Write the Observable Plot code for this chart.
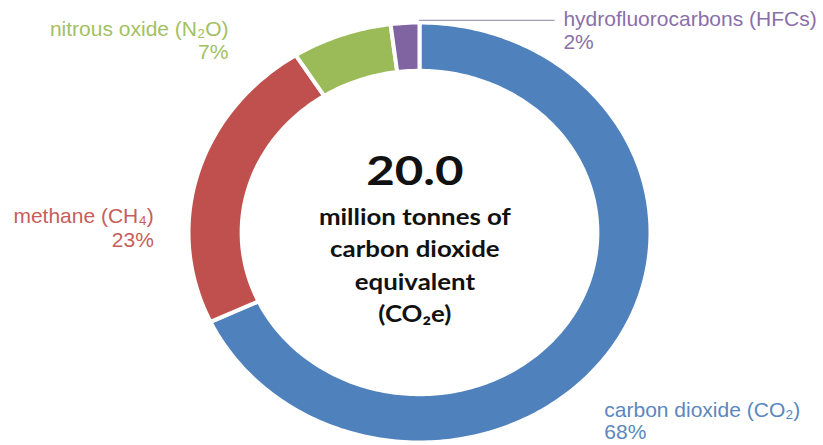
<!DOCTYPE html>
<html><head><meta charset="utf-8">
<script src="https://cdn.jsdelivr.net/npm/d3@7"></script>
<script src="https://cdn.jsdelivr.net/npm/@observablehq/plot@0.6"></script>
<style>html,body{margin:0;padding:0;background:#fff;overflow:hidden}</style>
</head><body><div id="chart"></div>
<script>
// ---- data ----
const gases = ["carbon dioxide (CO₂)", "methane (CH₄)", "nitrous oxide (N₂O)", "hydrofluorocarbons (HFCs)"];
const shares = [68, 23, 7, 2];
const shareLabels = ["68%", "23%", "7%", "2%"];
const totalValue = "20.0";
const centerLines = ["million tonnes of", "carbon dioxide", "equivalent", "(CO₂e)"];

// ---- styles / layout ----
const sliceColors = ["#4F81BD", "#C0504D", "#9BBB59", "#8064A2"];
const textColors = ["#5B87C0", "#C65E5B", "#A3C064", "#8A6FAA"];
const W = 823, H = 445, cx = 419, cy = 232, Rx = 231, Ry = 210, innerR = 0.77;
const labelPos = [
  {u: 0.80, v: -0.896, anchor: "start", lh: 1.06},
  {u: -1.15, v: 0.026, anchor: "end", lh: 1.14},
  {u: -0.827, v: 0.915, anchor: "end", lh: 1.07},
  {u: 0.623, v: 0.962, anchor: "start", lh: 1.09}
];

// ---- geometry derived from data ----
const arcs = d3.pie().sort(null).startAngle(0).endAngle(2 * Math.PI)(shares);
const ring = [];
arcs.forEach((a, i) => {
  const n = Math.max(4, Math.ceil((a.endAngle - a.startAngle) * 180 / Math.PI));
  for (let k = 0; k <= n; k++) {
    const t = a.startAngle + (a.endAngle - a.startAngle) * k / n;
    ring.push({gas: gases[i], u: Math.sin(t), v: Math.cos(t)});
  }
  for (let k = n; k >= 0; k--) {
    const t = a.startAngle + (a.endAngle - a.startAngle) * k / n;
    ring.push({gas: gases[i], u: innerR * Math.sin(t), v: innerR * Math.cos(t)});
  }
});
const hfcEnd = arcs[3].endAngle;
const leader = [
  {u: Math.sin(hfcEnd), v: 1.01 * Math.cos(hfcEnd)},
  {u: labelPos[3].u - 0.04, v: 1.01}
];
const labels = gases.map((g, i) => ({text: g + "\n" + shareLabels[i], u: labelPos[i].u, v: labelPos[i].v, anchor: labelPos[i].anchor, lh: labelPos[i].lh, color: textColors[i]}));
const centre = centerLines.map((t, i) => ({t, i}));

const chart = Plot.plot({
  width: W, height: H,
  marginTop: 0, marginRight: 0, marginBottom: 0, marginLeft: 0,
  x: {domain: [-cx / Rx, (W - cx) / Rx], range: [0, W], axis: null},
  y: {domain: [(cy - H) / Ry, cy / Ry], range: [H, 0], axis: null},
  color: {domain: gases, range: sliceColors},
  style: {background: "#fff"},
  marks: [
    Plot.line(ring, {x: "u", y: "v", z: "gas", fill: "gas", stroke: "white", strokeWidth: 4, curve: "linear-closed"}),
    Plot.line(leader, {x: "u", y: "v", stroke: "#A49BB8", strokeWidth: 1.2}),
    ...labels.map(l => Plot.text([l], {x: "u", y: "v", text: "text", textAnchor: l.anchor, fill: l.color, fontSize: 21, lineHeight: l.lh, fontFamily: "Liberation Sans, Arial, sans-serif"})),
    Plot.text([totalValue], {x: () => -0.02, y: () => 0.291, text: d => d, fontSize: 41, fontWeight: "bold", fontFamily: "Lato, sans-serif", fill: "#111"}),
    Plot.text(centre, {x: () => -0.02, y: d => 0.07 - d.i * 0.153, text: "t", fontSize: 23.5, fontWeight: "bold", fontFamily: "Lato, sans-serif", fill: "#111"})
  ]
});
document.getElementById("chart").appendChild(chart);
// widen the centre lettering horizontally, as in the reference
chart.querySelectorAll("text").forEach(t => {
  const s = t.textContent === totalValue ? 1.2 : centerLines.includes(t.textContent) ? 1.1 : null;
  if (!s) return;
  const tr = t.getAttribute("transform");
  if (tr && /translate/.test(tr)) t.setAttribute("transform", tr + ` scale(${s},1)`);
  else {
    const x = +t.getAttribute("x") || 0;
    t.setAttribute("transform", `translate(${x},0) scale(${s},1) translate(${-x},0)`);
  }
});
</script>
</body></html>
